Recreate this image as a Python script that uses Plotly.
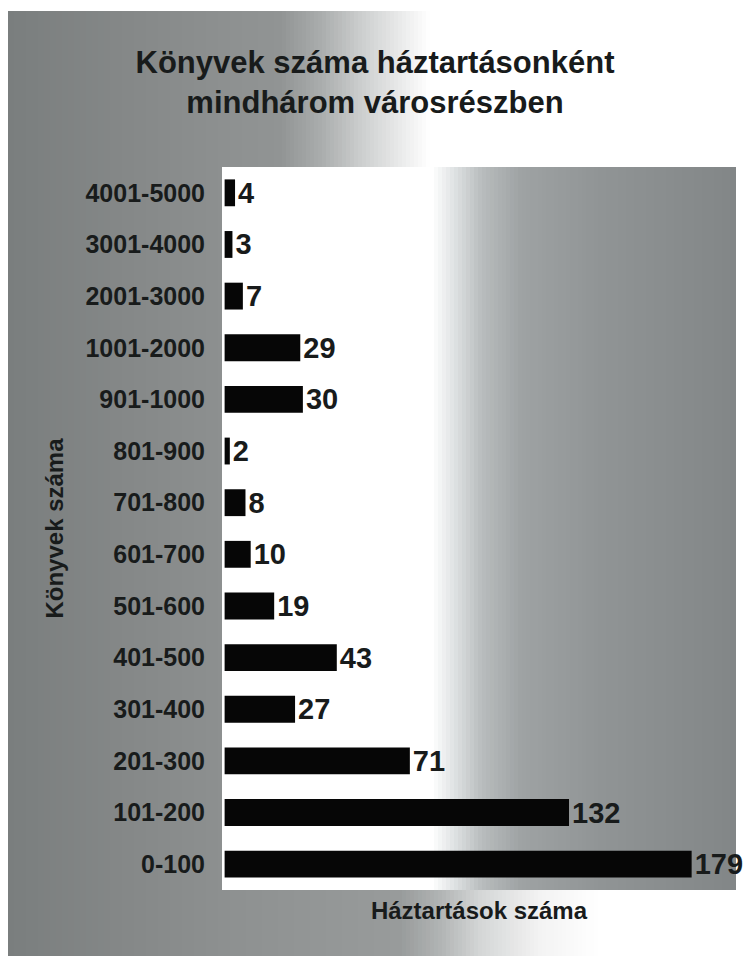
import plotly.graph_objects as go

# ---- data (bottom to top) ----
categories = ["0-100", "101-200", "201-300", "301-400", "401-500", "501-600",
              "601-700", "701-800", "801-900", "901-1000", "1001-2000",
              "2001-3000", "3001-4000", "4001-5000"]
households = [179, 132, 71, 27, 43, 19, 10, 8, 2, 30, 29, 7, 3, 4]

title_text = "Könyvek száma háztartásonként<br>mindhárom városrészben"
x_title = "Háztartások száma"
y_title = "Könyvek száma"

# ---- layout geometry (px, figure coords; page adds an 8px body margin) ----
W, H = 744, 948
PL, PR, PT, PB = 214, 728, 159, 882
PW, PH = PR - PL, PB - PT

def xp(px):
    return (px - PL) / PW

def yp(py):
    return (PB - py) / PH

def hex2rgb(h):
    h = h.lstrip("#")
    return tuple(int(h[i:i + 2], 16) for i in (0, 2, 4))

def interp(stops, x):
    if x <= stops[0][0]:
        return hex2rgb(stops[0][1])
    for (x0, c0), (x1, c1) in zip(stops, stops[1:]):
        if x0 <= x <= x1:
            a, b = hex2rgb(c0), hex2rgb(c1)
            t = (x - x0) / (x1 - x0) if x1 > x0 else 0
            return tuple(round(a[i] + (b[i] - a[i]) * t) for i in range(3))
    return hex2rgb(stops[-1][1])

shapes = []

def band(x0, x1, y0, y1, stops, step=4):
    segs = []
    x = x0
    while x < x1:
        xe = min(x + step, x1)
        c = interp(stops, (x + xe) / 2)
        if segs and segs[-1][2] == c:
            segs[-1][1] = xe
        else:
            segs.append([x, xe, c])
        x = xe
    for a, b, c in segs:
        shapes.append(dict(type="rect", xref="paper", yref="paper",
                           x0=xp(a), x1=xp(min(b + 0.6, x1)), y0=yp(y1), y1=yp(y0),
                           fillcolor="rgb(%d,%d,%d)" % c, line=dict(width=0),
                           layer="below"))

# chart-area: left column
band(0, PL, 3, H, [(0, "#7a7e7e"), (110, "#848787"), (214, "#8d9090")], step=6)
# top band
band(PL, W, 3, PT, [(214, "#8d9090"), (272, "#919494"), (312, "#a9acac"),
                    (352, "#cbcdcd"), (392, "#e9eaea"), (422, "#ffffff"), (744, "#ffffff")])
# bottom band
band(PL, W, PB, H, [(214, "#8d9090"), (392, "#989b9b"), (432, "#b1b4b4"),
                    (472, "#d4d6d6"), (532, "#f3f3f3"), (592, "#ffffff"), (744, "#ffffff")])
# plot area
band(PL, PR, PT, PB, [(214, "#ffffff"), (424, "#ffffff"), (444, "#e2e5e6"),
                      (474, "#b8bcbd"), (514, "#9ea2a3"), (594, "#909495"), (728, "#828687")])
# right white strip
shapes.append(dict(type="rect", xref="paper", yref="paper", x0=xp(PR), x1=xp(W),
                   y0=yp(PB), y1=yp(PT), fillcolor="#ffffff", line=dict(width=0),
                   layer="below"))

txt = "#181b1b"
fam = "Arial, Liberation Sans, sans-serif"

fig = go.Figure(go.Bar(
    x=households, y=categories, orientation="h",
    marker=dict(color="#060606", line=dict(width=0)),
    text=households, texttemplate="%{x}", textposition="outside",
    textfont=dict(family=fam, size=29, color=txt, weight="bold"),
    cliponaxis=False, constraintext="none", hoverinfo="skip",
))

fig.update_layout(
    width=W, height=H,
    margin=dict(l=PL, r=W - PR, t=PT, b=H - PB, autoexpand=False),
    paper_bgcolor="#ffffff", plot_bgcolor="rgba(0,0,0,0)",
    bargap=0.48, showlegend=False, shapes=shapes,
    title=dict(text=title_text, x=367 / W, xanchor="center", xref="container",
               y=1 - 65 / H, yanchor="middle", yref="container",
               font=dict(family=fam, size=31, color=txt, weight="bold")),
    font=dict(family=fam, color=txt),
)
fig.update_xaxes(range=[-1, 196], showgrid=False, zeroline=False, showline=False,
                 showticklabels=False, ticks="",
                 title=dict(text=x_title, standoff=12,
                            font=dict(family=fam, size=24, color=txt, weight="bold")))
fig.update_yaxes(categoryorder="array", categoryarray=categories,
                 range=[-0.5, len(categories) - 0.5],
                 showgrid=False, zeroline=False, showline=False,
                 ticks="outside", ticklen=11, tickcolor="rgba(0,0,0,0)",
                 tickfont=dict(family=fam, size=25, color=txt, weight="bold"),
                 title=dict(text=y_title, standoff=15,
                            font=dict(family=fam, size=24, color=txt, weight="bold")))

fig.write_html("out.html")
